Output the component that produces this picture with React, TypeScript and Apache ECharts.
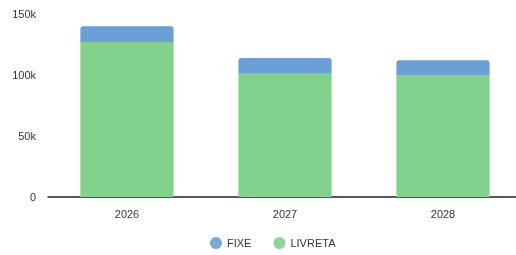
import React, { useEffect, useRef } from "react";
import * as echarts from "echarts";

const categories = ["2026", "2027", "2028"];
const livreta = [127000, 101000, 100000];
const fixe = [13000, 13000, 12000];
const yTicks = [0, 50000, 100000, 150000];

export default function App() {
  const ref = useRef<HTMLDivElement>(null);
  useEffect(() => {
    const chart = echarts.init(ref.current!, null, { renderer: "svg" });
    chart.setOption({
      animation: false,
      grid: { left: 48, right: 0, top: 14, bottom: 58 },
      legend: {
        top: 232,
        left: 205,
        icon: "circle",
        itemWidth: 12,
        itemHeight: 12,
        itemGap: 22,
        data: [
          { name: "FIXE", itemStyle: { color: "#78aad8" } },
          { name: "LIVRETA", itemStyle: { color: "#8fd49a" } },
        ],
        textStyle: { fontFamily: "Liberation Sans, Arial", fontSize: 11, color: "#333" },
      },
      xAxis: {
        type: "category",
        data: categories,
        axisLine: { lineStyle: { color: "#222", width: 1.5 } },
        axisTick: { show: false },
        axisLabel: { fontFamily: "Liberation Sans, Arial", fontSize: 11, color: "#333", margin: 11 },
      },
      yAxis: {
        type: "value",
        min: 0,
        max: 150000,
        interval: 50000,
        splitLine: { show: false },
        axisLine: { show: false },
        axisTick: { show: false },
        axisLabel: {
          fontFamily: "Liberation Sans, Arial",
          fontSize: 11,
          color: "#333",
          margin: 12,
          customValues: yTicks,
          formatter: (v: number) => (v === 0 ? "0" : v / 1000 + "k"),
        },
      },
      series: [
        {
          name: "LIVRETA",
          type: "bar",
          stack: "s",
          data: livreta,
          barWidth: "59%",
          itemStyle: { color: "#82d18c" },
        },
        {
          name: "FIXE",
          type: "bar",
          stack: "s",
          data: fixe,
          barWidth: "59%",
          itemStyle: { color: "#6c9fd6", borderRadius: [3, 3, 0, 0] },
        },
      ],
    });
    return () => chart.dispose();
  }, []);
  return (
    <div
      ref={ref}
      style={{ position: "fixed", left: 0, top: 0, width: 522, height: 255, overflow: "hidden" }}
    />
  );
}
